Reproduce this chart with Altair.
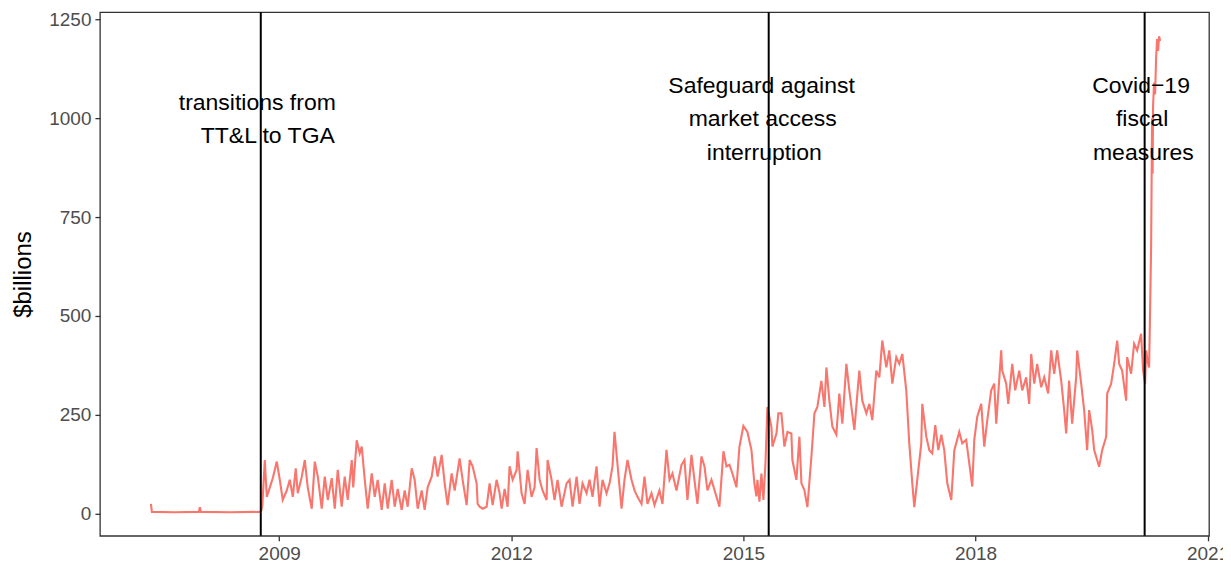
import altair as alt
import pandas as pd

# ---- data (decimal year, $billions) ----
pre_years = [2007.342, 2007.355, 2007.652, 2007.962, 2007.975, 2007.988, 2008.362, 2008.749, 2008.769]
pre_vals = [25, 5, 4, 5, 17, 5, 4, 5, 8]

y0812_years = [2008.782, 2008.814, 2008.840, 2008.879, 2008.917, 2008.969, 2009.008, 2009.046, 2009.098, 2009.137,
               2009.176, 2009.214, 2009.240, 2009.292, 2009.331, 2009.369, 2009.421, 2009.460, 2009.499, 2009.550,
               2009.589, 2009.628, 2009.679, 2009.718, 2009.757, 2009.808, 2009.847, 2009.886, 2009.938, 2009.957,
               2010.002, 2010.041, 2010.067, 2010.106, 2010.144, 2010.196, 2010.235, 2010.273, 2010.325, 2010.364,
               2010.403, 2010.454, 2010.493, 2010.532, 2010.583, 2010.622, 2010.661, 2010.713, 2010.751, 2010.790,
               2010.842, 2010.880, 2010.919, 2010.971, 2011.010, 2011.048, 2011.100, 2011.139, 2011.177, 2011.229,
               2011.268, 2011.332, 2011.371, 2011.423, 2011.462, 2011.500, 2011.552, 2011.565, 2011.591, 2011.629,
               2011.681, 2011.720, 2011.759, 2011.810, 2011.849, 2011.875, 2011.914, 2011.952, 2011.978]
y0812_vals = [20, 136, 43, 67, 90, 132, 86, 35, 59, 86,
              43, 115, 52, 94, 136, 67, 13, 132, 94, 13,
              94, 35, 90, 13, 111, 18, 94, 35, 136, 67,
              186, 153, 170, 86, 13, 102, 43, 86, 10, 77,
              13, 86, 18, 63, 10, 59, 18, 115, 86, 13,
              59, 10, 67, 94, 145, 94, 149, 77, 22, 102,
              59, 140, 86, 22, 136, 120, 77, 25, 18, 13,
              18, 77, 22, 86, 52, 13, 63, 18, 120]

y1215_years = [2012.017, 2012.069, 2012.082, 2012.133, 2012.172, 2012.211, 2012.262, 2012.301, 2012.327, 2012.366,
               2012.404, 2012.456, 2012.469, 2012.521, 2012.559, 2012.598, 2012.650, 2012.714, 2012.753, 2012.792,
               2012.844, 2012.882, 2012.921, 2012.973, 2013.011, 2013.050, 2013.102, 2013.141, 2013.179, 2013.231,
               2013.270, 2013.308, 2013.334, 2013.373, 2013.425, 2013.463, 2013.502, 2013.554, 2013.593, 2013.631,
               2013.683, 2013.722, 2013.760, 2013.812, 2013.851, 2013.915, 2013.954, 2014.006, 2014.045, 2014.083,
               2014.135, 2014.200, 2014.238, 2014.277, 2014.329, 2014.367, 2014.406, 2014.458, 2014.497, 2014.535,
               2014.587, 2014.652, 2014.690, 2014.742, 2014.781, 2014.820, 2014.858, 2014.910, 2014.949]
y1215_vals = [86, 111, 158, 52, 25, 111, 43, 67, 166, 86,
              59, 35, 136, 86, 35, 86, 18, 77, 86, 18,
              94, 25, 77, 52, 86, 43, 120, 18, 86, 52,
              77, 120, 207, 124, 13, 86, 136, 86, 59, 43,
              25, 94, 25, 52, 22, 59, 25, 162, 86, 102,
              59, 124, 136, 35, 149, 86, 25, 145, 120, 59,
              86, 43, 18, 158, 120, 124, 102, 67, 170]

y1518_years = [2015.000, 2015.052, 2015.104, 2015.142, 2015.168, 2015.181, 2015.207, 2015.233, 2015.259, 2015.285,
               2015.310, 2015.362, 2015.375, 2015.427, 2015.452, 2015.491, 2015.530, 2015.569, 2015.620, 2015.633,
               2015.685, 2015.724, 2015.750, 2015.788, 2015.827, 2015.879, 2015.918, 2015.956, 2016.008, 2016.047,
               2016.073, 2016.111, 2016.150, 2016.201, 2016.240, 2016.279, 2016.331, 2016.369, 2016.434, 2016.498,
               2016.537, 2016.589, 2016.628, 2016.666, 2016.718, 2016.757, 2016.795, 2016.847, 2016.886, 2016.925,
               2016.976, 2017.015, 2017.054, 2017.105, 2017.144, 2017.183, 2017.209, 2017.247, 2017.299, 2017.312,
               2017.364, 2017.403, 2017.441, 2017.480, 2017.519, 2017.558, 2017.596, 2017.635, 2017.687, 2017.726,
               2017.790, 2017.829, 2017.880, 2017.919, 2017.958, 2017.984]
y1518_vals = [222, 207, 161, 77, 44, 86, 31, 102, 35, 128,
              270, 220, 170, 203, 254, 254, 170, 207, 203, 136,
              86, 195, 77, 60, 17, 145, 254, 270, 336, 270,
              370, 286, 220, 200, 304, 228, 379, 312, 212, 362,
              286, 254, 278, 237, 362, 345, 438, 370, 413, 329,
              396, 379, 404, 312, 178, 77, 17, 86, 178, 278,
              195, 161, 153, 224, 161, 200, 161, 77, 35, 161,
              207, 178, 187, 128, 69, 187]

y1820_years = [2018.022, 2018.074, 2018.113, 2018.152, 2018.203, 2018.242, 2018.268, 2018.332, 2018.345, 2018.397,
               2018.423, 2018.475, 2018.513, 2018.565, 2018.604, 2018.655, 2018.694, 2018.720, 2018.759, 2018.797,
               2018.849, 2018.888, 2018.939, 2018.978, 2019.017, 2019.055, 2019.107, 2019.146, 2019.172, 2019.210,
               2019.249, 2019.301, 2019.314, 2019.366, 2019.404, 2019.443, 2019.469, 2019.508, 2019.534, 2019.572,
               2019.598, 2019.637, 2019.689, 2019.702, 2019.753, 2019.792, 2019.831, 2019.857, 2019.895, 2019.947,
               2019.960, 2020.011, 2020.050, 2020.089, 2020.140, 2020.166, 2020.192, 2020.205, 2020.231, 2020.244,
               2020.257, 2020.270, 2020.282, 2020.289, 2020.295, 2020.308, 2020.321, 2020.334, 2020.347, 2020.360,
               2020.373, 2020.386]
y1820_vals = [245, 278, 170, 237, 312, 329, 228, 413, 362, 329,
              278, 379, 312, 362, 312, 345, 278, 404, 329, 379,
              320, 345, 304, 413, 354, 413, 337, 262, 203, 337,
              228, 345, 413, 329, 262, 161, 262, 212, 161, 136,
              119, 161, 195, 304, 329, 379, 438, 379, 362, 286,
              396, 354, 430, 413, 455, 362, 329, 413, 379, 370,
              520, 680, 1000, 860, 1030, 1090, 1060, 1150, 1200, 1170,
              1207, 1195]

event_years = [2008.762, 2015.327, 2020.186]

ann_x = [2008.717, 2008.853, 2015.235, 2015.25, 2015.27, 2020.14, 2020.153, 2020.17]
ann_y = [1038, 955, 1081, 998, 912, 1081, 998, 912]
ann_text = ["transitions from", "TT&L to TGA",
            "Safeguard against", "market access", "interruption",
            "Covid\u221219", "fiscal", "measures"]

# ---- tables ----
series = pd.DataFrame({
    "year": pre_years + y0812_years + y1215_years + y1518_years + y1820_years,
    "value": pre_vals + y0812_vals + y1215_vals + y1518_vals + y1820_vals,
})
events = pd.DataFrame({"year": event_years})
ann = pd.DataFrame({"year": ann_x, "value": ann_y, "label": ann_text})

FONT = "Liberation Sans"
xscale = alt.Scale(domain=[2006.683, 2021.018], nice=False, zero=False)
yscale = alt.Scale(domain=[-55.5, 1267.7], nice=False, zero=False)

line = alt.Chart(series).mark_line(color="#F8766D", strokeWidth=2.1).encode(
    x=alt.X("year:Q", scale=xscale,
            axis=alt.Axis(values=[2009, 2012, 2015, 2018, 2021], format="d", title=None,
                          labelFlush=False, labelOverlap=False)),
    y=alt.Y("value:Q", scale=yscale,
            axis=alt.Axis(values=[0, 250, 500, 750, 1000, 1250], format="d", title="$billions",
                          titlePadding=13)),
)

rules = alt.Chart(events).mark_rule(color="black", strokeWidth=2).encode(
    x=alt.X("year:Q", scale=xscale)
)

texts = alt.Chart(ann).mark_text(font=FONT, fontSize=23, color="black",
                                 align="center", baseline="middle").encode(
    x=alt.X("year:Q", scale=xscale),
    y=alt.Y("value:Q", scale=yscale),
    text="label:N",
)

chart = alt.layer(line, rules, texts).properties(
    width=1110, height=524,
    autosize=alt.AutoSizeParams(type="none"),
    padding={"left": 92, "top": 4, "right": 14, "bottom": 30},
    background="white",
).configure_view(
    stroke="#333333", strokeWidth=1.3
).configure_axis(
    grid=False, domain=False,
    tickColor="#333333", tickSize=5, tickWidth=1.3,
    labelColor="#4D4D4D", labelFont=FONT, labelFontSize=19, labelPadding=4,
    titleFont=FONT, titleFontSize=24, titleColor="black", titleFontWeight="normal",
)

chart.save("out.html", embed_options={"renderer": "svg", "actions": False})
